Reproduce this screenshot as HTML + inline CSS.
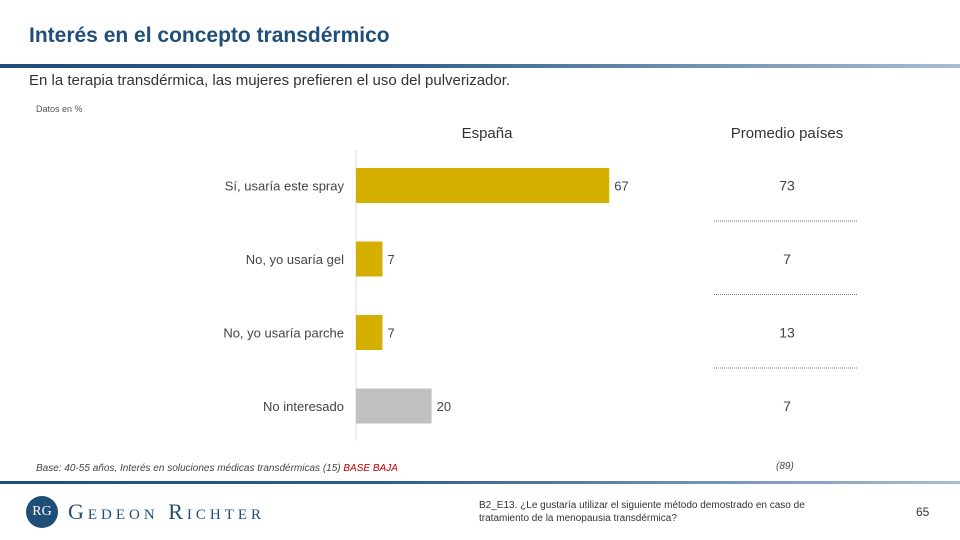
<!DOCTYPE html>
<html><head><meta charset="utf-8">
<style>
body{margin:0;width:960px;height:540px;background:#fff;position:relative;overflow:hidden;font-family:"Liberation Sans",sans-serif;}
.a{position:absolute;white-space:nowrap;}
</style></head><body>
<div class="a" style="left:29px;top:24px;font-size:21px;font-weight:bold;color:#1f4e79;">Interés en el concepto transdérmico</div>
<div class="a" style="left:0;top:64px;width:960px;height:4px;background:linear-gradient(to right,#1f4e79 0%,#2d5d8a 40%,#a9bdd3 100%);"></div>
<div class="a" style="left:29px;top:72px;font-size:15px;color:#333;">En la terapia transdérmica, las mujeres prefieren el uso del pulverizador.</div>
<div class="a" style="left:36px;top:104px;font-size:9px;color:#555;">Datos en %</div>
<div class="a" style="left:427px;top:125px;width:120px;text-align:center;font-size:15px;color:#333;">España</div>
<div class="a" style="left:707px;top:125px;width:160px;text-align:center;font-size:15px;color:#333;">Promedio países</div>
<svg class="a" style="left:0;top:0" width="960" height="540" id="chart"></svg>
<div class="a" style="left:36px;top:463px;font-size:10px;font-style:italic;color:#444;">Base: 40-55 años, Interés en soluciones médicas transdérmicas (15) <span style="color:#c00000;">BASE BAJA</span></div>
<div class="a" style="left:776px;top:461px;font-size:10px;font-style:italic;color:#444;">(89)</div>
<div class="a" style="left:0;top:481px;width:960px;height:3px;background:linear-gradient(to right,#1f4e79 0%,#2d5d8a 40%,#a9bdd3 100%);"></div>
<div class="a" style="left:26px;top:496px;width:32px;height:32px;border-radius:50%;background:#1f4e79;color:#fff;font-family:'Liberation Serif',serif;font-size:14px;line-height:32px;text-align:center;">RG</div>
<div class="a" style="left:68px;top:499px;font-family:'Liberation Serif',serif;font-size:22px;color:#1f4e79;font-variant:small-caps;letter-spacing:4px;">Gedeon Richter</div>
<div class="a" style="left:479px;top:499px;font-size:10px;color:#333;line-height:13px;">B2_E13. ¿Le gustaría utilizar el siguiente método demostrado en caso de<br>tratamiento de la menopausia transdérmica?</div>
<div class="a" style="left:916px;top:505px;font-size:12px;color:#333;">65</div>
<script>
const categories=["Sí, usaría este spray","No, yo usaría gel","No, yo usaría parche","No interesado"];
const spainValues=[67,7,7,20];
const averageValues=[73,7,13,7];
const barColors=["#d4af00","#d4af00","#d4af00","#c0c0c0"];
const NS="http://www.w3.org/2000/svg";
const svg=document.getElementById('chart');
const x0=356, scale=3.78;
const xS=v=>x0+v*scale;
const yS=i=>168+i*73.5;
const bh=35;
function mk(t,a){const e=document.createElementNS(NS,t);for(const k in a)e.setAttribute(k,a[k]);svg.appendChild(e);return e;}
const ax=mk('line',{x1:x0,x2:x0,y1:150,y2:441,stroke:'#ddd','stroke-width':1});


categories.forEach((c,i)=>{
  const y=yS(i);
  const lab=mk('text',{x:344,y:y+bh/2+5,'text-anchor':'end','font-size':13,fill:'#444'});
  lab.textContent=c;
  
  
  const r=mk('rect',{x:x0,y:y,width:xS(spainValues[i])-x0,height:bh,fill:barColors[i]});
  
  
  const v=mk('text',{x:xS(spainValues[i])+5,y:y+bh/2+5,'font-size':13,fill:'#444'});
  v.textContent=spainValues[i];
  
  
  const a=mk('text',{x:787,y:y+bh/2+5,'text-anchor':'middle','font-size':14,fill:'#444'});
  a.textContent=averageValues[i];
  
  
  if(i<categories.length-1){
    const l=mk('line',{x1:714,x2:857,y1:y+53,y2:y+53,stroke:'#777','stroke-width':1,'stroke-dasharray':'1,1'});
    
    
  }
});
</script>
</body></html>
